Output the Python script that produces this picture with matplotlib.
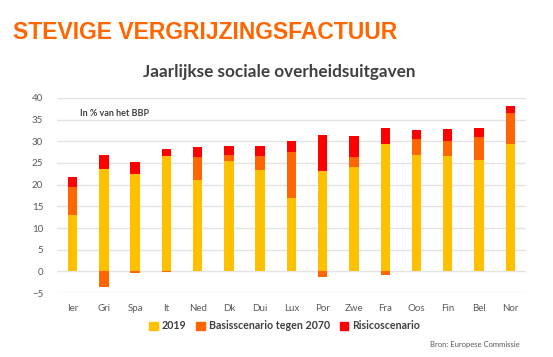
import matplotlib
matplotlib.use('Agg')
import matplotlib.pyplot as plt
from matplotlib.patches import Patch
import numpy as np

# waarden (in % van het BBP)
landen = ['Ier', 'Gri', 'Spa', 'It', 'Ned', 'Dk', 'Dui', 'Lux',
          'Por', 'Zwe', 'Fra', 'Oos', 'Fin', 'Bel', 'Nor']
v2019 = [13.1, 23.6, 22.4, 26.6, 21.1, 25.4, 23.3, 16.9,
         23.1, 24.1, 29.4, 26.8, 26.6, 25.6, 29.3]
basis = [6.3, -3.6, -0.4, -0.2, 5.3, 1.5, 3.3, 10.5,
         -1.2, 2.3, -0.8, 3.8, 3.4, 5.4, 7.1]
risico = [2.4, 3.3, 2.8, 1.7, 2.2, 2.1, 2.4, 2.6,
          8.4, 4.9, 3.6, 2.0, 2.9, 2.0, 1.8]

geel = '#FFC000'
oranje = '#FF6600'
rood = '#FF0000'
grijs = '#595959'

plt.rcParams['font.family'] = ['Lato', 'DejaVu Sans']

fig = plt.figure(figsize=(5.53, 3.57), dpi=100)
ax = fig.add_axes([0.103, 0.179, 0.848, 0.547])

x = np.arange(len(landen))
b = np.array(basis)
bodem_oranje = np.where(b >= 0, v2019, 0)
bodem_rood = np.array(v2019) + np.clip(b, 0, None)

w = 0.30
ax.bar(x, v2019, w, color=geel, zorder=2)
ax.bar(x, basis, w, bottom=bodem_oranje, color=oranje, zorder=2)
ax.bar(x, risico, w, bottom=bodem_rood, color=rood, zorder=2)

ax.set_ylim(-5, 40)
ax.set_yticks(range(-5, 41, 5))
ax.set_xlim(-0.5, len(landen) - 0.5)
ax.set_xticks(x)
ax.set_xticklabels(landen)
ax.grid(axis='y', color='#E3E3E3', linewidth=1, zorder=0)
for s in ax.spines.values():
    s.set_visible(False)
ax.tick_params(length=0, labelsize=7, colors=grijs, pad=8)
ax.tick_params(axis='y', pad=10)

ax.text(0.05, 0.905, 'In % van het BBP', transform=ax.transAxes,
        fontsize=6.5, fontweight='bold', color='#404040')

fig.text(0.023, 0.91, 'STEVIGE VERGRIJZINGSFACTUUR', fontsize=16.5,
         fontweight='bold', color='#FF6600', family='Liberation Sans',
         va='center')
fig.text(0.505, 0.797, 'Jaarlijkse sociale overheidsuitgaven', fontsize=12.3,
         fontweight='bold', color='#404040', ha='center', va='center')

handles = [Patch(color=geel, label='2019'),
           Patch(color=oranje, label='Basisscenario tegen 2070'),
           Patch(color=rood, label='Risicoscenario')]
leg = fig.legend(handles=handles, loc='center', bbox_to_anchor=(0.515, 0.087),
                 ncol=3, frameon=False, handlelength=0.8,
                 handleheight=0.8, handletextpad=0.4, columnspacing=0.9,
                 prop={'weight': 'bold', 'size': 7.7})
for t in leg.get_texts():
    t.set_color('#404040')

fig.text(0.94, 0.035, 'Bron: Europese Commissie', fontsize=5.5,
         color=grijs, ha='right', va='center')

fig.savefig('out.png', dpi=100)
